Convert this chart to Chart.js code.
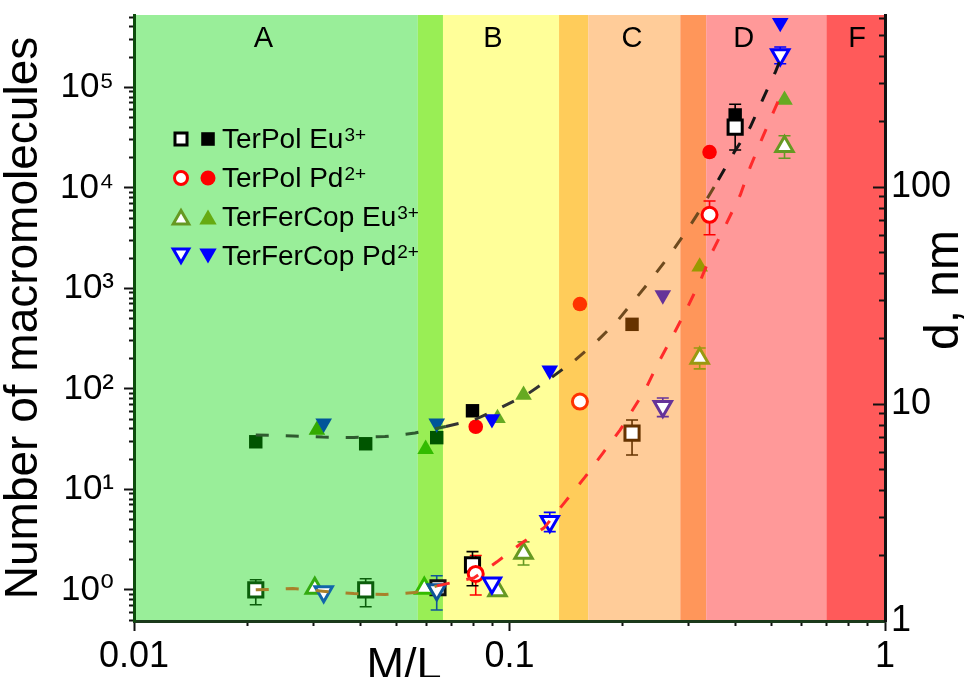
<!DOCTYPE html>
<html>
<head>
<meta charset="utf-8">
<title>Number of macromolecules and d vs M/L</title>
<script src="https://cdn.jsdelivr.net/npm/chart.js@4.4.1/dist/chart.umd.min.js"></script>
<style>
html,body{margin:0;padding:0;background:#ffffff;overflow:hidden;}
#wrap{position:relative;width:971px;height:677px;}
canvas{display:block;}
</style>
</head>
<body>
<div id="wrap"><canvas id="chart" width="971" height="677"></canvas></div>
<script>
// ---------------- DATA ----------------
// x axis: M/L ratio (log)
const xTickValues = [0.01, 0.1, 1];
const xTickLabels = ['0.01', '0.1', '1'];
const xMinorTicks = [0.02,0.03,0.04,0.05,0.06,0.07,0.08,0.09,0.2,0.3,0.4,0.5,0.6,0.7,0.8,0.9];
// left axis: number of macromolecules (log)
const yTickValues = [1, 10, 100, 1000, 10000, 100000];
const yTickLabels = ['10\u2070', '10\u00B9', '10\u00B2', '10\u00B3', '10\u2074', '10\u2075'];
const yMinorTicks = [0.5,0.6,0.7,0.8,0.9,2,3,4,5,6,7,8,9,20,30,40,50,60,70,80,90,200,300,400,500,600,700,800,900,
  2000,3000,4000,5000,6000,7000,8000,9000,20000,30000,40000,50000,60000,70000,80000,90000,200000,300000,400000,500000];
// right axis: d, nm (log)
const y2TickValues = [1, 10, 100];
const y2TickLabels = ['1', '10', '100'];
const y2MinorTicks = [2,3,4,5,6,7,8,9,20,30,40,50,60,70,80,90,200,300,400,500,600];

// regions
const bandEdges = [0.01, 0.0570, 0.0665, 0.1355, 0.162, 0.285, 0.334, 0.698, 1];
const bandNames = ['A', 'B', 'C', 'D', 'F'];
const bandNameX = [0.0221, 0.0904, 0.2118, 0.4203, 0.843];

// Open markers: number of macromolecules (left axis)
const sqOpenX  = [0.0211, 0.0414, 0.0645, 0.0797, 0.212, 0.399];
const sqOpenN  = [1.0, 1.0, 1.05, 1.77, 36.3, 40200];
const sqOpenLo = [0.71, 0.68, null, 1.10, 22, 23800];
const sqOpenHi = [1.26, 1.29, null, 2.40, 49, 68000];

const ciOpenX  = [0.0813, 0.154, 0.341];
const ciOpenN  = [1.44, 74.8, 5390];
const ciOpenLo = [0.89, null, 3420];
const ciOpenHi = [2.2, null, 7400];

const tuOpenX  = [0.0303, 0.0593, 0.0929, 0.109, 0.321, 0.540];
const tuOpenN  = [1.04, 1.04, 0.98, 2.32, 202, 25800];
const tuOpenLo = [null, null, null, 1.77, 158, 19700];
const tuOpenHi = [null, null, null, 3.0, 255, 33000];

const tdOpenX  = [0.0320, 0.0640, 0.0898, 0.128, 0.256, 0.526];
const tdOpenN  = [0.96, 1.0, 1.17, 4.78, 66.7, 210600];
const tdOpenLo = [null, 0.63, null, 3.8, 53, 172000];
const tdOpenHi = [null, 1.38, null, 5.9, 81, 252000];

// Filled markers: d, nm (right axis)
const sqFillX = [0.0211, 0.0414, 0.0640, 0.0797, 0.212, 0.399];
const sqFillD = [6.70, 6.56, 7.0, 9.31, 23.3, 215];
const ciFillX = [0.0813, 0.154, 0.341];
const ciFillD = [7.86, 28.9, 145];
const tuFillX = [0.0307, 0.0598, 0.0929, 0.109, 0.321, 0.540];
const tuFillD = [7.59, 6.20, 8.60, 11.0, 42.9, 252];
const tdFillX = [0.0320, 0.0640, 0.0898, 0.128, 0.256, 0.526];
const tdFillD = [8.15, 8.15, 8.53, 14.3, 31.8, 572];

// Dashed guide curves
const fitUpX = [0.0211,0.0265,0.0318,0.0385,0.0466,0.0560,0.0677,0.0804,0.0955,0.1107,0.1298,0.1495,0.1701,0.1947,
  0.2355,0.2647,0.2974,0.3281,0.3597,0.3969,0.4378,0.4742,0.5105,0.5233];
const fitUpD = [7.20,7.12,7.04,7.01,7.08,7.35,7.88,8.44,9.69,11.0,13.3,15.95,19.3,24.4,36.5,47.6,63.4,82.6,107.7,145,189,257,339,377];
const fitLowX = [0.0211,0.0265,0.0318,0.0385,0.0466,0.0560,0.0641,0.0804,0.0926,0.1080,0.1236,0.1406,0.1590,0.1775,
  0.1971,0.2298,0.2489,0.2713,0.2956,0.3221,0.3467,0.3778,0.4118,0.4378,0.4713,0.5074,0.5395];
const fitLowN = [1.0,1.03,0.97,0.919,0.898,0.940,1.096,1.316,1.90,2.94,4.14,7.51,13.3,23.1,39.1,97.7,181,329,611,1187,
  2308,4384,8516,16180,31440,59730,101000];

// ---------------- STYLES ----------------
const FONT = "'Liberation Sans', Arial, 'DejaVu Sans', sans-serif";
const bandColors = ['#99ee99', '#99ee55', '#ffff99', '#ffcc5a', '#ffcc99', '#ff965a', '#ff9999', '#ff5a5a'];
const sqOpenCol = ['#0b5e0b', '#0b5e0b', '#111111', '#000000', '#663300', '#000000'];
const ciOpenCol = ['#ff0000', '#ff3300', '#ff0000'];
const tuOpenCol = ['#33aa11', '#33bb00', '#669922', '#669922', '#999911', '#669922'];
const tdOpenCol = ['#1166aa', '#115599', '#0000ff', '#0000ff', '#663399', '#0000ff'];
const sqFillCol = ['#005500', '#005500', '#005500', '#000000', '#663300', '#000000'];
const ciFillCol = ['#ff0000', '#ff3300', '#ff0000'];
const tuFillCol = ['#33aa00', '#33bb00', '#66aa22', '#66aa22', '#999900', '#66aa22'];
const tdFillCol = ['#005599', '#005599', '#0000ff', '#0000ff', '#663399', '#0000ff'];
const fitUpSegCol = ['#2f5a2f','#2f5a2f','#2f5a2f','#2f5a2f','#2f5a2f','#2f5a2f','#333333','#333333','#333333','#333333','#2a2a2a',
  '#6e4a1e','#6e4a1e','#6e4a1e','#6e4a1e','#6e4a1e','#6e4a1e','#6e4a1e','#151515','#151515','#151515','#151515','#151515','#151515'];
const fitLowSegCol = ['#a8802a','#a8802a','#a8802a','#a8802a','#a8802a','#a8802a','#ff2a2a'];

function pts(xs, ys) { return xs.map((x, i) => ({ x: x, y: ys[i] })); }
function segColor(arr) { return ctx => arr[Math.min(ctx.p0DataIndex, arr.length - 1)]; }

const openBase = { type: 'scatter', yAxisID: 'y', xAxisID: 'x', pointRadius: 10, pointBorderWidth: 3, pointBackgroundColor: '#ffffff', showLine: false };
const fillBase = { type: 'scatter', yAxisID: 'y2', xAxisID: 'x', pointBorderWidth: 0, showLine: false };

const datasets = [
  { type: 'line', label: 'guide d', yAxisID: 'y2', xAxisID: 'x', data: pts(fitUpX, fitUpD), borderWidth: 3, borderDash: [13, 17],
    borderColor: '#151515', pointRadius: 0, fill: false, tension: 0, order: 0, segment: { borderColor: segColor(fitUpSegCol) } },
  { type: 'line', label: 'guide N', yAxisID: 'y', xAxisID: 'x', data: pts(fitLowX, fitLowN), borderWidth: 3, borderDash: [13, 17],
    borderColor: '#ff2a2a', pointRadius: 0, fill: false, tension: 0, order: 0, segment: { borderColor: segColor(fitLowSegCol) } },

  Object.assign({}, openBase, { label: 'TerFerCop Pd2+ N', data: pts(tdOpenX, tdOpenN), pointStyle: 'triangle', pointRotation: 180,
    pointBorderColor: tdOpenCol, errLo: tdOpenLo, errHi: tdOpenHi, order: 1 }),
  Object.assign({}, openBase, { label: 'TerFerCop Eu3+ N', data: pts(tuOpenX, tuOpenN), pointStyle: 'triangle',
    pointBorderColor: tuOpenCol, errLo: tuOpenLo, errHi: tuOpenHi, order: 2 }),
  Object.assign({}, openBase, { label: 'TerPol Pd2+ N', data: pts(ciOpenX, ciOpenN), pointStyle: 'circle', pointRadius: 7.5,
    pointBorderColor: ciOpenCol, errLo: ciOpenLo, errHi: ciOpenHi, order: 3 }),
  Object.assign({}, openBase, { label: 'TerPol Eu3+ N', data: pts(sqOpenX, sqOpenN), pointStyle: 'rect',
    pointBorderColor: sqOpenCol, errLo: sqOpenLo, errHi: sqOpenHi, order: 4 }),

  Object.assign({}, fillBase, { label: 'TerFerCop Pd2+ d', data: pts(tdFillX, tdFillD), pointStyle: 'triangle', pointRotation: 180,
    pointRadius: 9.6, pointBackgroundColor: tdFillCol, pointBorderColor: tdFillCol, order: 5 }),
  Object.assign({}, fillBase, { label: 'TerFerCop Eu3+ d', data: pts(tuFillX, tuFillD), pointStyle: 'triangle',
    pointRadius: 9.6, pointBackgroundColor: tuFillCol, pointBorderColor: tuFillCol, order: 6 }),
  Object.assign({}, fillBase, { label: 'TerPol Pd2+ d', data: pts(ciFillX, ciFillD), pointStyle: 'circle',
    pointRadius: 7.3, pointBackgroundColor: ciFillCol, pointBorderColor: ciFillCol, order: 7 }),
  Object.assign({}, fillBase, { label: 'TerPol Eu3+ d', data: pts(sqFillX, sqFillD), pointStyle: 'rect',
    pointRadius: 9.5, pointBackgroundColor: sqFillCol, pointBorderColor: sqFillCol, order: 8 })
];

// ---------------- PLUGINS ----------------
const bandsPlugin = {
  id: 'bands',
  beforeDraw(chart) {
    const { ctx, chartArea: ca, scales } = chart;
    ctx.save();
    for (let i = 0; i < bandColors.length; i++) {
      const x0 = scales.x.getPixelForValue(bandEdges[i]);
      const x1 = scales.x.getPixelForValue(bandEdges[i + 1]);
      ctx.fillStyle = bandColors[i];
      ctx.fillRect(x0, ca.top, x1 - x0, ca.bottom - ca.top);
    }
    ctx.restore();
  }
};

const errorBarPlugin = {
  id: 'errbars',
  beforeDatasetsDraw(chart) {
    const { ctx, chartArea: ca } = chart;
    ctx.save();
    ctx.beginPath();
    ctx.rect(ca.left, ca.top, ca.right - ca.left, ca.bottom - ca.top);
    ctx.clip();
    chart.data.datasets.forEach(ds => {
      if (!ds.errLo) return;
      const ys = chart.scales[ds.yAxisID], xs = chart.scales.x;
      ds.data.forEach((p, i) => {
        if (ds.errLo[i] == null) return;
        const px = xs.getPixelForValue(p.x);
        const y1 = ys.getPixelForValue(ds.errLo[i]);
        const y2 = ys.getPixelForValue(ds.errHi[i]);
        ctx.strokeStyle = ds.pointBorderColor[i];
        ctx.lineWidth = 1.6;
        ctx.beginPath();
        ctx.moveTo(px, y1); ctx.lineTo(px, y2);
        ctx.moveTo(px - 6, y1); ctx.lineTo(px + 6, y1);
        ctx.moveTo(px - 6, y2); ctx.lineTo(px + 6, y2);
        ctx.stroke();
      });
    });
    ctx.restore();
  }
};

function drawMarker(ctx, shape, x, y, r, rot) {
  ctx.beginPath();
  if (shape === 'rect') {
    const s = r * Math.SQRT2;
    ctx.rect(x - s / 2, y - s / 2, s, s);
  } else if (shape === 'circle') {
    ctx.arc(x, y, r, 0, Math.PI * 2);
  } else {
    let a = (rot || 0) * Math.PI / 180;
    ctx.moveTo(x + Math.sin(a) * r, y - Math.cos(a) * r);
    for (let k = 0; k < 2; k++) { a += 2 * Math.PI / 3; ctx.lineTo(x + Math.sin(a) * r, y - Math.cos(a) * r); }
    ctx.closePath();
  }
}

const legendText = ['TerPol Eu', 'TerPol Pd', 'TerFerCop Eu', 'TerFerCop Pd'];
const legendSup = ['3+', '2+', '3+', '2+'];
const legendMarks = [
  { shape: 'rect', rot: 0, line: '#000000', fill: '#000000', ro: 10, rf: 9.6, dy: 0 },
  { shape: 'circle', rot: 0, line: '#ff0000', fill: '#ff0000', ro: 8, rf: 7.5, dy: 0 },
  { shape: 'triangle', rot: 0, line: '#669922', fill: '#66aa11', ro: 10.5, rf: 10, dy: 2.5 },
  { shape: 'triangle', rot: 180, line: '#0000ff', fill: '#0000ff', ro: 10.5, rf: 10, dy: -2.5 }
];

const overlayPlugin = {
  id: 'overlay',
  afterDraw(chart) {
    const { ctx, chartArea: ca, scales } = chart;
    ctx.save();
    // region letters
    ctx.fillStyle = '#000';
    ctx.font = '29px ' + FONT;
    ctx.textAlign = 'center';
    ctx.textBaseline = 'alphabetic';
    bandNames.forEach((n, i) => ctx.fillText(n, scales.x.getPixelForValue(bandNameX[i]), ca.top + 32));

    // legend
    const lx = ca.left, ly = ca.top;
    legendText.forEach((t, i) => {
      const base = ly + 133 + i * 39;
      const cy = base - 9;
      const m = legendMarks[i];
      // open marker
      ctx.lineWidth = 3; ctx.lineJoin = 'miter';
      ctx.fillStyle = '#ffffff'; ctx.strokeStyle = m.line;
      drawMarker(ctx, m.shape, lx + 47, cy + m.dy, m.ro - 1.5, m.rot);
      ctx.fill(); ctx.stroke();
      // filled marker
      ctx.fillStyle = m.fill;
      drawMarker(ctx, m.shape, lx + 74, cy + m.dy, m.rf, m.rot);
      ctx.fill();
      // text
      ctx.fillStyle = '#000';
      ctx.textAlign = 'left';
      ctx.textBaseline = 'alphabetic';
      ctx.font = '28px ' + FONT;
      ctx.fillText(t, lx + 88, base);
      const w = ctx.measureText(t).width;
      ctx.font = '19px ' + FONT;
      ctx.fillText(legendSup[i], lx + 88 + w + 1, base - 7);
    });

    // x axis title
    ctx.font = '45px ' + FONT;
    ctx.textAlign = 'center';
    ctx.textBaseline = 'alphabetic';
    ctx.fillStyle = '#000';
    ctx.fillText('M/L', 404, 679);

    // right axis title (reads bottom to top)
    ctx.translate(945, 290);
    ctx.rotate(-Math.PI / 2);
    ctx.textBaseline = 'middle';
    ctx.font = '48px ' + FONT;
    ctx.fillText('d, nm', 0, 0);
    ctx.restore();
  }
};

// ---------------- SCALES ----------------
function setTicks(values) { return s => { s.ticks = values.map(v => ({ value: v })); }; }
function fixWidth(w) { return s => { s.width = w; s.paddingLeft = 0; s.paddingRight = 0; s.paddingTop = 0; s.paddingBottom = 0; }; }
function fixHeight(h) { return s => { s.height = h; s.paddingLeft = 0; s.paddingRight = 0; s.paddingTop = 0; s.paddingBottom = 0; }; }

const scales = {
  x: {
    type: 'logarithmic', position: 'bottom', min: 0.01, max: 1, weight: 2,
    afterBuildTicks: setTicks(xTickValues), afterFit: fixHeight(56),
    ticks: { callback: (v, i) => xTickLabels[i], font: { family: FONT, size: 36 }, color: '#000', padding: 4, maxRotation: 0, autoSkip: false },
    grid: { drawOnChartArea: false, tickLength: 10, tickWidth: 2, tickColor: '#111' },
    border: { display: true, color: '#1b3a1b', width: 3 }
  },
  xMinor: {
    type: 'logarithmic', position: 'bottom', min: 0.01, max: 1, weight: 1,
    afterBuildTicks: setTicks(xMinorTicks), afterFit: fixHeight(0),
    ticks: { display: false, autoSkip: false },
    grid: { drawOnChartArea: false, tickLength: 5, tickWidth: 2, tickColor: '#111' },
    border: { display: false }
  },
  y: {
    type: 'logarithmic', position: 'left', min: 0.49, max: 525000, weight: 2,
    afterBuildTicks: setTicks(yTickValues), afterFit: fixWidth(134),
    ticks: { callback: (v, i) => yTickLabels[i], font: { family: FONT, size: 35 }, color: '#000', padding: 10, autoSkip: false },
    grid: { drawOnChartArea: false, tickLength: 10, tickWidth: 2, tickColor: '#111' },
    border: { display: true, color: '#0d4d0d', width: 3 },
    title: { display: true, text: 'Number of macromolecules', color: '#000', font: { family: FONT, size: 46, lineHeight: 1.05 }, padding: 0 }
  },
  yMinor: {
    type: 'logarithmic', position: 'left', min: 0.49, max: 525000, weight: 1,
    afterBuildTicks: setTicks(yMinorTicks), afterFit: fixWidth(0),
    ticks: { display: false, autoSkip: false },
    grid: { drawOnChartArea: false, tickLength: 5, tickWidth: 2, tickColor: '#111' },
    border: { display: false }
  },
  y2: {
    type: 'logarithmic', position: 'right', min: 1, max: 621, weight: 2,
    afterBuildTicks: setTicks(y2TickValues), afterFit: fixWidth(86),
    ticks: { callback: (v, i) => y2TickLabels[i], font: { family: FONT, size: 36 }, color: '#000', padding: 18, autoSkip: false },
    grid: { drawOnChartArea: false, tickLength: -12, tickWidth: 2, tickColor: '#111' },
    border: { display: true, color: '#111111', width: 3 }
  },
  y2Minor: {
    type: 'logarithmic', position: 'right', min: 1, max: 621, weight: 1,
    afterBuildTicks: setTicks(y2MinorTicks), afterFit: fixWidth(0),
    ticks: { display: false, autoSkip: false },
    grid: { drawOnChartArea: false, tickLength: -6, tickWidth: 2, tickColor: '#111' },
    border: { display: false }
  }
};

new Chart(document.getElementById('chart'), {
  type: 'scatter',
  data: { datasets: datasets },
  options: {
    responsive: false,
    devicePixelRatio: 1,
    animation: false,
    events: [],
    layout: { padding: { left: 0, right: 0, top: 15, bottom: 0 } },
    plugins: { legend: { display: false }, tooltip: { enabled: false }, title: { display: false } },
    scales: scales
  },
  plugins: [bandsPlugin, errorBarPlugin, overlayPlugin]
});
</script>
</body>
</html>
